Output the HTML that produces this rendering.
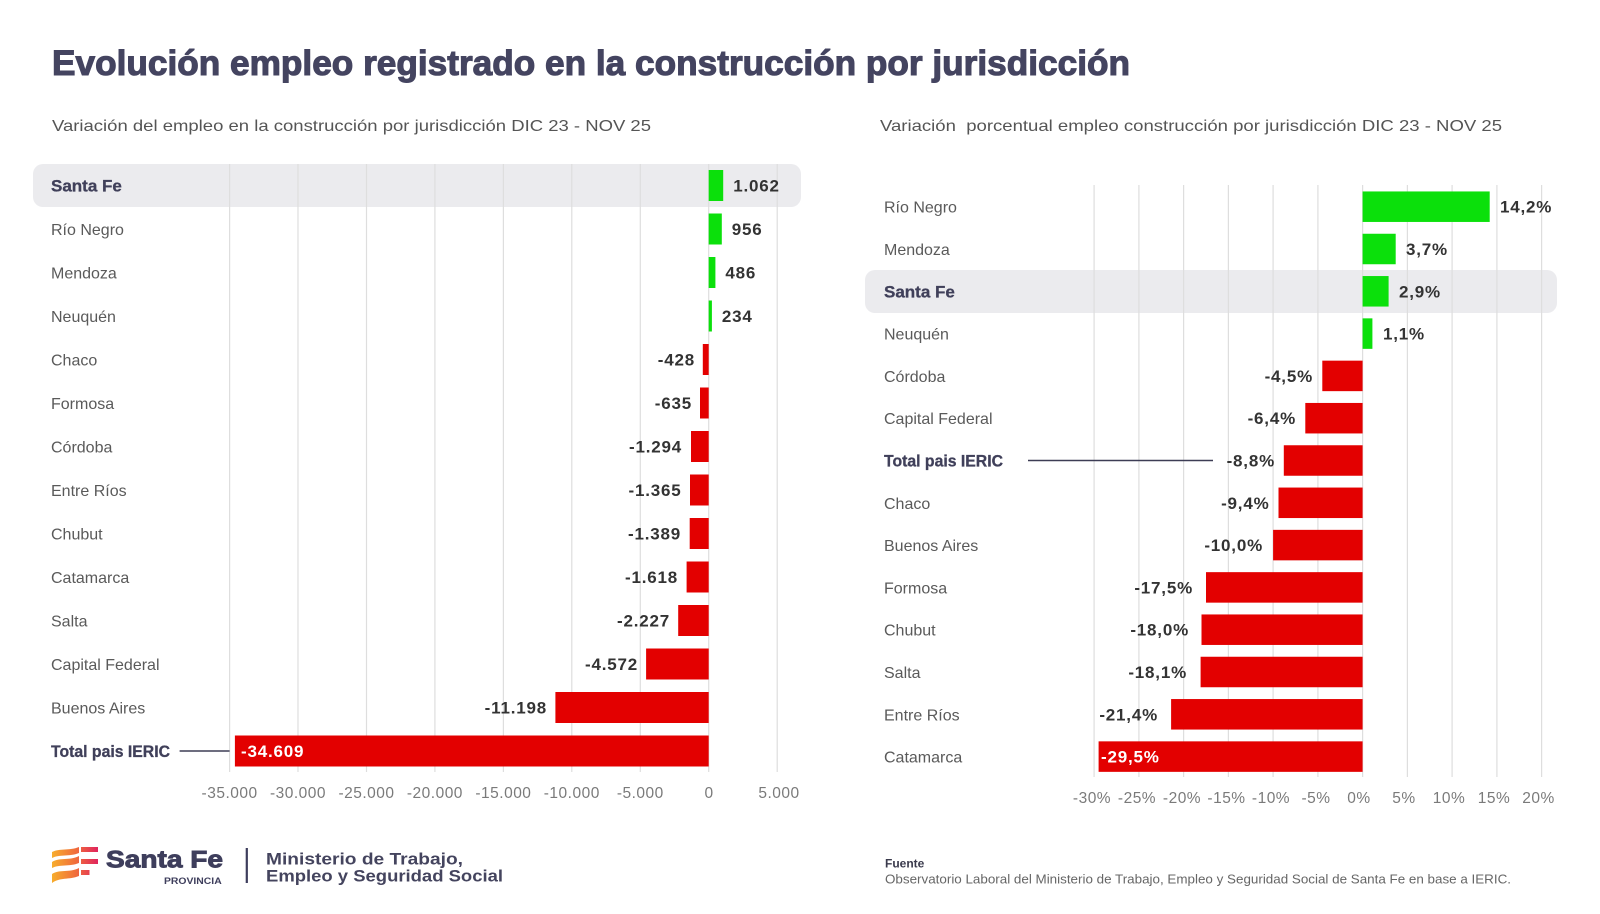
<!DOCTYPE html>
<html>
<head>
<meta charset="utf-8">
<style>
  html,body{margin:0;padding:0;background:#ffffff;}
  svg{display:block;}
  text{font-family:"Liberation Sans", sans-serif;}
  .cat{font-size:16px;fill:#5a5a5a;}
  .catb{font-size:17px;fill:#40405a;font-weight:bold;stroke:#40405a;stroke-width:0.3;}
  .val{font-size:17px;fill:#333333;font-weight:bold;letter-spacing:0.8px;}
  .valw{font-size:17px;fill:#ffffff;font-weight:bold;letter-spacing:0.8px;}
  .ax{font-size:15.5px;fill:#7a7a7a;letter-spacing:0.5px;}
  .grid line{stroke:#dedede;stroke-width:1.2;}
</style>
</head>
<body>
<svg width="1600" height="914" viewBox="0 0 1600 914" xmlns="http://www.w3.org/2000/svg">
  <defs>
    <linearGradient id="lg" x1="51" y1="0" x2="98" y2="0" gradientUnits="userSpaceOnUse">
      <stop offset="0" stop-color="#f7b02c"/>
      <stop offset="0.55" stop-color="#f06a3c"/>
      <stop offset="1" stop-color="#e0245e"/>
    </linearGradient>
  </defs>
  <rect x="0" y="0" width="1600" height="914" fill="#ffffff"/>

  <!-- Title -->
  <text x="52" y="75" font-size="35" font-weight="bold" fill="#444460" stroke="#444460" stroke-width="1.1" textLength="1078" lengthAdjust="spacingAndGlyphs">Evolución empleo registrado en la construcción por jurisdicción</text>

  <!-- Subtitles -->
  <text x="52" y="131" font-size="16" fill="#555555" textLength="599" lengthAdjust="spacingAndGlyphs">Variación del empleo en la construcción por jurisdicción DIC 23 - NOV 25</text>
  <text x="880" y="131" font-size="16" fill="#555555" style="white-space:pre" textLength="622" lengthAdjust="spacingAndGlyphs">Variación  porcentual empleo construcción por jurisdicción DIC 23 - NOV 25</text>

  <!-- ================= LEFT CHART ================= -->
  <rect x="33" y="164" width="768" height="43" rx="10" ry="10" fill="#ebebee"/>
  <g class="grid">
    <line x1="229.6" y1="164" x2="229.6" y2="772"/>
    <line x1="298.0" y1="164" x2="298.0" y2="772"/>
    <line x1="366.5" y1="164" x2="366.5" y2="772"/>
    <line x1="434.9" y1="164" x2="434.9" y2="772"/>
    <line x1="503.4" y1="164" x2="503.4" y2="772"/>
    <line x1="571.8" y1="164" x2="571.8" y2="772"/>
    <line x1="640.3" y1="164" x2="640.3" y2="772"/>
    <line x1="708.7" y1="164" x2="708.7" y2="772"/>
    <line x1="777.2" y1="164" x2="777.2" y2="772"/>
  </g>

  <!-- bars -->
  <g fill="#0be00b">
    <rect x="708.7" y="170" width="14.5" height="31"/>
    <rect x="708.7" y="213.5" width="13.1" height="31"/>
    <rect x="708.7" y="257" width="6.7" height="31"/>
    <rect x="708.7" y="300.5" width="3.2" height="31"/>
  </g>
  <g fill="#e30000">
    <rect x="702.8" y="344" width="5.9" height="31"/>
    <rect x="700.0" y="387.5" width="8.7" height="31"/>
    <rect x="691.0" y="431" width="17.7" height="31"/>
    <rect x="690.0" y="474.5" width="18.7" height="31"/>
    <rect x="689.7" y="518" width="19.0" height="31"/>
    <rect x="686.6" y="561.5" width="22.1" height="31"/>
    <rect x="678.2" y="605" width="30.5" height="31"/>
    <rect x="646.1" y="648.5" width="62.6" height="31"/>
    <rect x="555.4" y="692" width="153.3" height="31"/>
    <rect x="234.9" y="735.5" width="473.8" height="31"/>
  </g>

  <!-- category labels -->
  <text class="catb" x="51" y="191.5">Santa Fe</text>
  <text class="cat" x="51" y="235">Río Negro</text>
  <text class="cat" x="51" y="278.5">Mendoza</text>
  <text class="cat" x="51" y="322">Neuquén</text>
  <text class="cat" x="51" y="365.5">Chaco</text>
  <text class="cat" x="51" y="409">Formosa</text>
  <text class="cat" x="51" y="452.5">Córdoba</text>
  <text class="cat" x="51" y="496">Entre Ríos</text>
  <text class="cat" x="51" y="539.5">Chubut</text>
  <text class="cat" x="51" y="583">Catamarca</text>
  <text class="cat" x="51" y="626.5">Salta</text>
  <text class="cat" x="51" y="670">Capital Federal</text>
  <text class="cat" x="51" y="713.5">Buenos Aires</text>
  <text class="catb" x="51" y="757" font-size="16.5" textLength="119" lengthAdjust="spacingAndGlyphs">Total pais IERIC</text>
  <line x1="179.6" y1="751" x2="229.6" y2="751" stroke="#3d3d55" stroke-width="1.5"/>

  <!-- value labels -->
  <text class="val" x="733.2" y="191.5">1.062</text>
  <text class="val" x="731.8" y="235">956</text>
  <text class="val" x="725.4" y="278.5">486</text>
  <text class="val" x="721.9" y="322">234</text>
  <g text-anchor="end">
    <text class="val" x="695" y="365.5">-428</text>
    <text class="val" x="692" y="409">-635</text>
    <text class="val" x="682" y="452.5">-1.294</text>
    <text class="val" x="681.5" y="496">-1.365</text>
    <text class="val" x="681" y="539.5">-1.389</text>
    <text class="val" x="678" y="583">-1.618</text>
    <text class="val" x="670" y="626.5">-2.227</text>
    <text class="val" x="638" y="670">-4.572</text>
    <text class="val" x="547" y="713.5">-11.198</text>
  </g>
  <text class="valw" x="241" y="757">-34.609</text>

  <!-- axis labels -->
  <g text-anchor="middle">
    <text class="ax" x="229.6" y="798">-35.000</text>
    <text class="ax" x="298.0" y="798">-30.000</text>
    <text class="ax" x="366.5" y="798">-25.000</text>
    <text class="ax" x="434.9" y="798">-20.000</text>
    <text class="ax" x="503.4" y="798">-15.000</text>
    <text class="ax" x="571.8" y="798">-10.000</text>
    <text class="ax" x="640.3" y="798">-5.000</text>
    <text class="ax" x="709" y="798">0</text>
    <text class="ax" x="779" y="798">5.000</text>
  </g>

  <!-- ================= RIGHT CHART ================= -->
  <rect x="865" y="270" width="692" height="43" rx="10" ry="10" fill="#ebebee"/>
  <g class="grid">
    <line x1="1094.1" y1="185" x2="1094.1" y2="777"/>
    <line x1="1138.9" y1="185" x2="1138.9" y2="777"/>
    <line x1="1183.6" y1="185" x2="1183.6" y2="777"/>
    <line x1="1228.4" y1="185" x2="1228.4" y2="777"/>
    <line x1="1273.1" y1="185" x2="1273.1" y2="777"/>
    <line x1="1317.9" y1="185" x2="1317.9" y2="777"/>
    <line x1="1362.6" y1="185" x2="1362.6" y2="777"/>
    <line x1="1407.4" y1="185" x2="1407.4" y2="777"/>
    <line x1="1452.1" y1="185" x2="1452.1" y2="777"/>
    <line x1="1496.9" y1="185" x2="1496.9" y2="777"/>
    <line x1="1541.6" y1="185" x2="1541.6" y2="777"/>
  </g>

  <g fill="#0be00b">
    <rect x="1362.6" y="191.45" width="127.1" height="30.5"/>
    <rect x="1362.6" y="233.75" width="33.1" height="30.5"/>
    <rect x="1362.6" y="276.05" width="26.0" height="30.5"/>
    <rect x="1362.6" y="318.35" width="9.8" height="30.5"/>
  </g>
  <g fill="#e30000">
    <rect x="1322.3" y="360.65" width="40.3" height="30.5"/>
    <rect x="1305.3" y="402.95" width="57.3" height="30.5"/>
    <rect x="1283.8" y="445.25" width="78.8" height="30.5"/>
    <rect x="1278.5" y="487.55" width="84.1" height="30.5"/>
    <rect x="1273.1" y="529.85" width="89.5" height="30.5"/>
    <rect x="1206.0" y="572.15" width="156.6" height="30.5"/>
    <rect x="1201.5" y="614.45" width="161.1" height="30.5"/>
    <rect x="1200.6" y="656.75" width="162.0" height="30.5"/>
    <rect x="1171.1" y="699.05" width="191.5" height="30.5"/>
    <rect x="1098.6" y="741.35" width="264.0" height="30.5"/>
  </g>

  <text class="cat" x="884" y="212.7">Río Negro</text>
  <text class="cat" x="884" y="255">Mendoza</text>
  <text class="catb" x="884" y="297.3">Santa Fe</text>
  <text class="cat" x="884" y="339.6">Neuquén</text>
  <text class="cat" x="884" y="381.9">Córdoba</text>
  <text class="cat" x="884" y="424.2">Capital Federal</text>
  <text class="catb" x="884" y="466.5" font-size="16.5" textLength="119" lengthAdjust="spacingAndGlyphs">Total pais IERIC</text>
  <text class="cat" x="884" y="508.8">Chaco</text>
  <text class="cat" x="884" y="551.1">Buenos Aires</text>
  <text class="cat" x="884" y="593.4">Formosa</text>
  <text class="cat" x="884" y="635.7">Chubut</text>
  <text class="cat" x="884" y="678">Salta</text>
  <text class="cat" x="884" y="720.3">Entre Ríos</text>
  <text class="cat" x="884" y="762.6">Catamarca</text>
  <line x1="1028" y1="460.5" x2="1213" y2="460.5" stroke="#3d3d55" stroke-width="1.5"/>

  <text class="val" x="1500" y="212.7">14,2%</text>
  <text class="val" x="1406" y="255">3,7%</text>
  <text class="val" x="1399" y="297.3">2,9%</text>
  <text class="val" x="1383" y="339.6">1,1%</text>
  <g text-anchor="end">
    <text class="val" x="1313" y="381.9">-4,5%</text>
    <text class="val" x="1296" y="424.2">-6,4%</text>
    <text class="val" x="1275" y="466.5">-8,8%</text>
    <text class="val" x="1269.5" y="508.8">-9,4%</text>
    <text class="val" x="1263" y="551.1">-10,0%</text>
    <text class="val" x="1193" y="593.4">-17,5%</text>
    <text class="val" x="1189" y="635.7">-18,0%</text>
    <text class="val" x="1187" y="678">-18,1%</text>
    <text class="val" x="1158" y="720.3">-21,4%</text>
  </g>
  <text class="valw" x="1101" y="762.6">-29,5%</text>

  <g text-anchor="middle">
    <text class="ax" x="1092" y="803">-30%</text>
    <text class="ax" x="1137" y="803">-25%</text>
    <text class="ax" x="1182" y="803">-20%</text>
    <text class="ax" x="1226.5" y="803">-15%</text>
    <text class="ax" x="1271" y="803">-10%</text>
    <text class="ax" x="1316" y="803">-5%</text>
    <text class="ax" x="1359" y="803">0%</text>
    <text class="ax" x="1404" y="803">5%</text>
    <text class="ax" x="1449" y="803">10%</text>
    <text class="ax" x="1494" y="803">15%</text>
    <text class="ax" x="1538.5" y="803">20%</text>
  </g>

  <!-- ================= FOOTER ================= -->
  <!-- logo icon -->
  <g fill="url(#lg)">
    <path d="M52,852 C60,848 69,851 79,847 L79,853 C69,857 60,854 52,858 Z"/>
    <path d="M52,862 C60,857 69,861 79,856 L79,863 C69,867 60,864 52,868 Z"/>
    <path d="M52,874 C60,869 69,873 79,868 L79,876 C69,880 60,877 52,883 Z"/>
    <rect x="81" y="847" width="17" height="5"/>
    <rect x="81" y="859" width="17" height="5"/>
    <rect x="81" y="870" width="8.5" height="5"/>
  </g>
  <text x="106" y="867.7" font-size="24" font-weight="bold" fill="#3e3e5c" stroke="#3e3e5c" stroke-width="0.9" textLength="117" lengthAdjust="spacingAndGlyphs">Santa Fe</text>
  <text x="164" y="884" font-size="9" font-weight="bold" fill="#3e3e5c" textLength="57.7" lengthAdjust="spacingAndGlyphs">PROVINCIA</text>
  <rect x="245.7" y="848" width="2.2" height="35" fill="#3e3e5c"/>
  <text x="266" y="864.3" font-size="16.5" font-weight="bold" fill="#44445e" textLength="197" lengthAdjust="spacingAndGlyphs">Ministerio de Trabajo,</text>
  <text x="266" y="881.7" font-size="16.5" font-weight="bold" fill="#44445e" textLength="237" lengthAdjust="spacingAndGlyphs">Empleo y Seguridad Social</text>

  <!-- source -->
  <text x="885" y="867.5" font-size="12" font-weight="bold" fill="#3a3a4c">Fuente</text>
  <text x="885" y="883.5" font-size="12.5" fill="#666666" textLength="626" lengthAdjust="spacingAndGlyphs">Observatorio Laboral del Ministerio de Trabajo, Empleo y Seguridad Social de Santa Fe en base a IERIC.</text>
</svg>
</body>
</html>
